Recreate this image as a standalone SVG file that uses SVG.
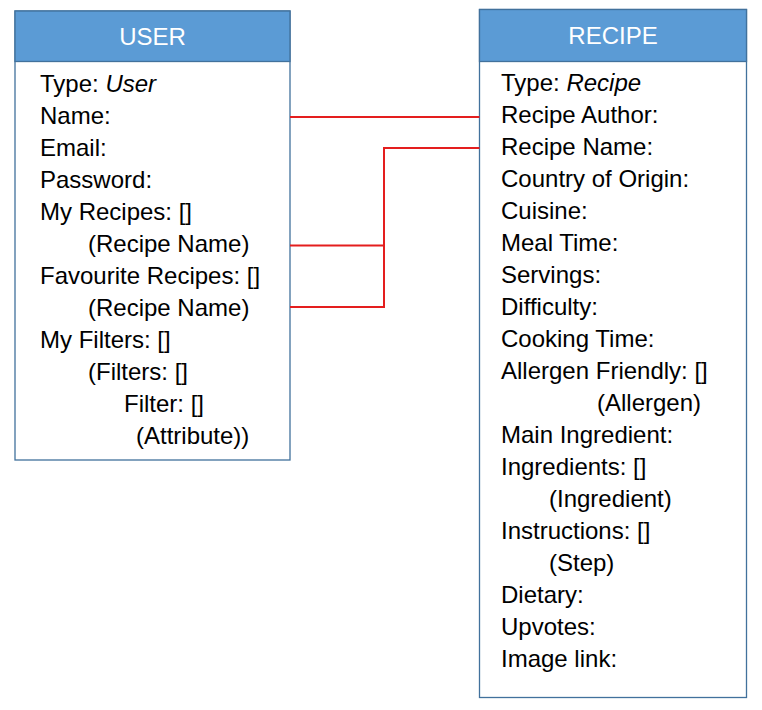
<svg xmlns="http://www.w3.org/2000/svg" width="762" height="710" viewBox="0 0 762 710">
<style>
.box{fill:#fff;stroke:#41719C;stroke-width:1.3}
.hdr{fill:#5B9BD5;stroke:#41719C;stroke-width:1.3}
.ht{font-family:"Liberation Sans",Arial,sans-serif;font-size:24px;fill:#fff;text-anchor:middle}
.t{font-family:"Liberation Sans",Arial,sans-serif;font-size:24px;fill:#000}
.conn{fill:none;stroke:#E41E1E;stroke-width:2}
</style>
<rect width="762" height="710" fill="#fff"/>
<g id="user">
<rect class="box" x="15" y="11" width="275" height="449"/>
<rect class="hdr" x="15" y="11" width="275" height="50.5"/>
<text class="ht" x="152.5" y="45">USER</text>
<text class="t" x="40" y="91.5">Type: <tspan font-style="italic">User</tspan></text>
<text class="t" x="40" y="123.5">Name:</text>
<text class="t" x="40" y="155.5">Email:</text>
<text class="t" x="40" y="187.5">Password:</text>
<text class="t" x="40" y="219.5">My Recipes: []</text>
<text class="t" x="88" y="251.5">(Recipe Name)</text>
<text class="t" x="40" y="283.5">Favourite Recipes: []</text>
<text class="t" x="88" y="315.5">(Recipe Name)</text>
<text class="t" x="40" y="347.5">My Filters: []</text>
<text class="t" x="88" y="379.5">(Filters: []</text>
<text class="t" x="124" y="411.5">Filter: []</text>
<text class="t" x="136" y="443.5">(Attribute))</text>
</g>
<g id="recipe">
<rect class="box" x="479.5" y="9.5" width="267" height="688"/>
<rect class="hdr" x="479.5" y="9.5" width="267" height="52"/>
<text class="ht" x="613" y="44">RECIPE</text>
<text class="t" x="501" y="90.5">Type: <tspan font-style="italic">Recipe</tspan></text>
<text class="t" x="501" y="122.5">Recipe Author:</text>
<text class="t" x="501" y="154.5">Recipe Name:</text>
<text class="t" x="501" y="186.5">Country of Origin:</text>
<text class="t" x="501" y="218.5">Cuisine:</text>
<text class="t" x="501" y="250.5">Meal Time:</text>
<text class="t" x="501" y="282.5">Servings:</text>
<text class="t" x="501" y="314.5">Difficulty:</text>
<text class="t" x="501" y="346.5">Cooking Time:</text>
<text class="t" x="501" y="378.5">Allergen Friendly: []</text>
<text class="t" x="597" y="410.5">(Allergen)</text>
<text class="t" x="501" y="442.5">Main Ingredient:</text>
<text class="t" x="501" y="474.5">Ingredients: []</text>
<text class="t" x="549" y="506.5">(Ingredient)</text>
<text class="t" x="501" y="538.5">Instructions: []</text>
<text class="t" x="549" y="570.5">(Step)</text>
<text class="t" x="501" y="602.5">Dietary:</text>
<text class="t" x="501" y="634.5">Upvotes:</text>
<text class="t" x="501" y="666.5">Image link:</text>
</g>
<g id="connectors">
<path class="conn" d="M290 117H479.5"/>
<path class="conn" d="M479.5 148H384V307H290"/>
<path class="conn" d="M290 245.5H384"/>
</g>
</svg>
